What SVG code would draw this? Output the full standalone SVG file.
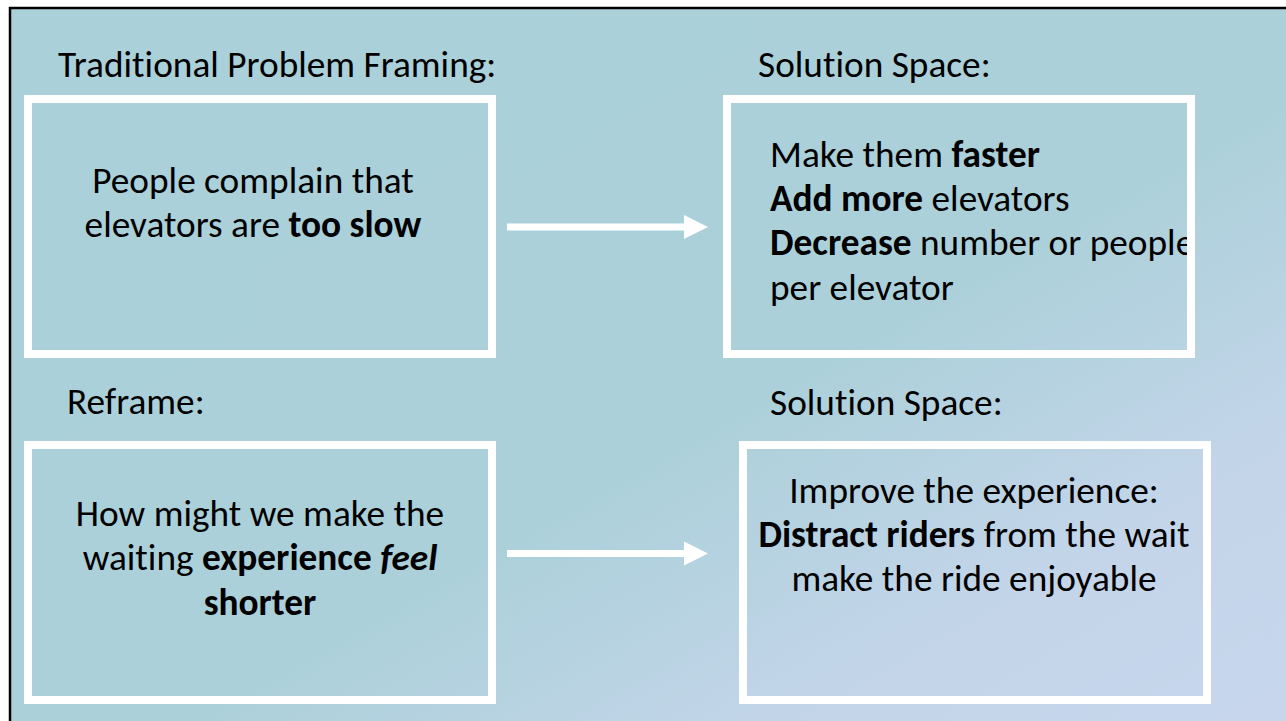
<svg xmlns="http://www.w3.org/2000/svg" width="1286" height="721" viewBox="0 0 1286 721">
  <style>
    .t { font-family: Calibri, Carlito, Lato, "Open Sans", sans-serif; font-size: 37.3px; fill: #000; font-variant-ligatures: none; }
    .c { text-anchor: middle; }
    .b { font-weight: bold; }
    .box { fill: none; stroke: #fff; stroke-width: 8; }
    .conn line { stroke: #fff; stroke-width: 7; }
    .conn polygon { fill: #fff; }
  </style>
  <defs>
    <linearGradient id="bg" x1="0" y1="0" x2="1" y2="1">
      <stop offset="0" stop-color="#aad0d9"/>
      <stop offset="0.55" stop-color="#abd0d9"/>
      <stop offset="0.8" stop-color="#c4d5ea"/>
      <stop offset="1" stop-color="#c7d6ec"/>
    </linearGradient>
  </defs>
  <rect x="0" y="0" width="1286" height="721" fill="#fff"/>
  <rect x="10" y="8" width="1290" height="730" fill="url(#bg)" stroke="#000" stroke-width="2.5"/>

  <g id="label-traditional"><text class="t" x="58" y="77">Traditional Problem Framing:</text></g>
  <g id="label-solution1"><text class="t" x="758" y="77">Solution Space:</text></g>
  <g id="label-reframe"><text class="t" x="67" y="414">Reframe:</text></g>
  <g id="label-solution2"><text class="t" x="770" y="415">Solution Space:</text></g>

  <g id="node-problem">
    <text class="t c" x="253" y="193">People complain that</text>
    <text class="t c" x="253" y="237">elevators are <tspan class="b">too slow</tspan></text>
    <rect class="box" x="28" y="99" width="464" height="255"/>
  </g>

  <g id="node-solutions1">
    <text class="t" x="770" y="167">Make them <tspan class="b">faster</tspan></text>
    <text class="t" x="770" y="211"><tspan class="b">Add more</tspan> elevators</text>
    <text class="t" x="770" y="255"><tspan class="b">Decrease</tspan> number or people</text>
    <text class="t" x="770" y="300">per elevator</text>
    <rect class="box" x="727" y="99" width="464" height="255"/>
  </g>

  <g id="node-reframe">
    <text class="t c" x="260" y="526">How might we make the</text>
    <text class="t c" x="260" y="570">waiting <tspan class="b">experience </tspan><tspan class="b" font-style="italic">feel</tspan></text>
    <text class="t c b" x="260" y="615">shorter</text>
    <rect class="box" x="28" y="445" width="464" height="255"/>
  </g>

  <g id="node-solutions2">
    <text class="t c" x="974" y="503">Improve the experience:</text>
    <text class="t c" x="974" y="547"><tspan class="b">Distract riders</tspan> from the wait</text>
    <text class="t c" x="974" y="591">make the ride enjoyable</text>
    <rect class="box" x="743" y="445" width="464" height="255"/>
  </g>

  <g id="connectors" class="conn">
    <line x1="507" y1="227" x2="686" y2="227"/>
    <polygon points="684,215 708,227 684,239"/>
    <line x1="507" y1="553.5" x2="686" y2="553.5"/>
    <polygon points="684,541.5 708,553.5 684,565.5"/>
  </g>
</svg>
